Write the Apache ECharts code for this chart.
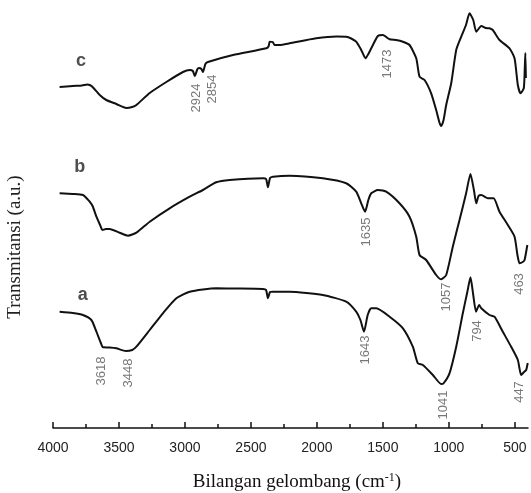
<!DOCTYPE html>
<html>
<head>
<meta charset="utf-8">
<script src="https://cdn.jsdelivr.net/npm/echarts@6/dist/echarts.min.js"></script>
<style>
  html, body { margin: 0; padding: 0; background: #fff; }
  #chart { width: 531px; height: 493px; }
</style>
</head>
<body>
<div id="chart"></div>
<script>
// FTIR spectra, [wavenumber, transmittance (a.u.)]
var spectrumC = [
  [3950, 341], [3850, 342], [3780, 342.5], [3740, 343.5], [3722, 343], [3700, 341],
  [3646, 333], [3596, 328], [3520, 324], [3444, 320], [3400, 321], [3368, 323],
  [3267, 335], [3141, 346], [3015, 356], [2964, 358], [2940, 357], [2926, 352],
  [2905, 359], [2894, 360], [2875, 359], [2864, 356], [2845, 364], [2826, 366],
  [2636, 373], [2383, 379.7], [2365, 382], [2358, 386.3], [2335, 386], [2320, 383],
  [2283, 383], [2207, 384.7], [2005, 389.7], [1850, 391.5], [1778, 391.3], [1740, 389.5],
  [1702, 386.3], [1664, 378], [1631, 369.7], [1610, 374], [1588, 379.7], [1538, 392],
  [1500, 393], [1449, 388.7], [1400, 388], [1348, 386.3], [1298, 383], [1247, 369.7],
  [1222, 351.3], [1184, 348], [1134, 334.7], [1096, 318], [1070, 305], [1058, 302],
  [1040, 308], [1020, 323], [982, 344.7], [944, 378], [906, 391.3], [870, 403],
  [843, 414.7], [815, 408], [792, 396.3], [754, 402], [720, 400], [692, 399.7],
  [667, 398], [616, 388], [540, 379.7], [502, 369.7], [477, 343], [457, 334.7],
  [432, 339.7], [425, 358], [420, 375], [416, 350]
];
var spectrumB = [
  [3950, 234.7], [3850, 234], [3773, 233], [3740, 229], [3722, 226.3], [3700, 222],
  [3671, 211.3], [3640, 202], [3626, 198], [3600, 199], [3571, 199], [3495, 195.3],
  [3432, 192.3], [3368, 195.3], [3267, 206.3], [3116, 219.7], [2964, 231.3], [2864, 238],
  [2763, 245.7], [2661, 248], [2409, 249.7], [2385, 249], [2371, 240.7], [2355, 250],
  [2333, 251.3], [2207, 252.3], [1955, 249.7], [1778, 244.7], [1702, 236.3], [1664, 224.7],
  [1635, 216.3], [1610, 228], [1588, 234.7], [1538, 238], [1475, 236.3], [1374, 224.7],
  [1298, 211.3], [1247, 191.3], [1222, 173], [1172, 168], [1096, 153], [1058, 148.7],
  [1020, 153], [970, 181.3], [919, 208], [869, 234.7], [836, 254], [810, 238],
  [792, 224.7], [775, 232], [754, 233], [704, 229.7], [661, 229.7], [616, 216.3],
  [553, 203], [502, 191.3], [480, 173], [464, 164.7], [440, 166], [426, 168], [405, 183]
];
var spectrumA = [
  [3950, 116.3], [3850, 115], [3773, 113], [3709, 108], [3671, 96.3], [3640, 86],
  [3621, 80.7], [3570, 80.5], [3520, 79.7], [3448, 77], [3400, 78], [3368, 81.3],
  [3267, 98], [3167, 114.7], [3065, 129.7], [2964, 136.3], [2763, 139.7], [2600, 139.5],
  [2409, 139], [2385, 138], [2371, 129.7], [2355, 136], [2333, 136.3], [2207, 136.3],
  [1955, 133], [1778, 126.3], [1702, 116.3], [1670, 108], [1643, 96.3], [1615, 113],
  [1588, 119.7], [1550, 119.7], [1449, 111.3], [1348, 99.7], [1273, 81.3], [1235, 64.7],
  [1197, 63], [1121, 53], [1058, 44], [1041, 44.5], [995, 54.7], [944, 81.3],
  [894, 114.7], [860, 136], [836, 150.7], [815, 133], [794, 116.3], [770, 123],
  [754, 119.7], [692, 113], [654, 111.3], [591, 96.3], [528, 81.3], [477, 68],
  [452, 53], [430, 56], [414, 58], [402, 65]
];

// band annotations: [x, y, text]
var peakLabels = [
  [2914, 330, '2924'], [2788, 339, '2854'], [1467, 364, '1473'],
  [1626, 196, '1635'], [1020, 131, '1057'], [464, 144, '463'],
  [3633, 57, '3618'], [3432, 55, '3448'], [1631, 78, '1643'],
  [1040, 23, '1041'], [780, 97, '794'], [464, 36, '447']
];
var sampleLabels = [[3788, 367, 'c'], [3798, 261, 'b'], [3775, 133, 'a']];

var majorTicks = [500, 1000, 1500, 2000, 2500, 3000, 3500, 4000];
var minorTicks = [750, 1250, 1750, 2250, 2750, 3250, 3750];

var chart = echarts.init(document.getElementById('chart'));

function spectrum(data) {
  return {
    type: 'line',
    data: data,
    symbol: 'none',
    smooth: 0.2,
    lineStyle: { color: '#111', width: 2 },
    silent: true
  };
}

var option = {
  animation: false,
  grid: { left: 53, right: 3, top: 0, bottom: 65 },
  xAxis: [{
    type: 'value',
    min: 400,
    max: 4000,
    inverse: true,
    axisLine: { lineStyle: { color: '#111', width: 1.5 } },
    axisTick: { customValues: majorTicks, inside: true, length: 6, lineStyle: { color: '#111', width: 1.5 } },
    axisLabel: {
      customValues: majorTicks,
      formatter: function (v) { return String(v); },
      color: '#222', fontSize: 14, fontFamily: 'Liberation Sans', margin: 13
    },
    splitLine: { show: false }
  }, {
    type: 'value',
    min: 400,
    max: 4000,
    inverse: true,
    position: 'bottom',
    axisLine: { show: false },
    axisTick: { customValues: minorTicks, inside: true, length: 4, lineStyle: { color: '#111', width: 1.5 } },
    axisLabel: { show: false },
    splitLine: { show: false }
  }],
  yAxis: {
    type: 'value',
    min: 0,
    max: 428,
    show: false
  },
  graphic: [{
    type: 'text',
    x: 15, y: 247,
    rotation: Math.PI / 2,
    style: {
      text: 'Transmitansi (a.u.)',
      font: '19px "Liberation Serif"',
      fill: '#222',
      textAlign: 'center',
      textVerticalAlign: 'middle'
    }
  }, {
    type: 'text',
    x: 297, y: 482,
    style: {
      text: '{a|Bilangan gelombang (cm}{s|-1}{a|)}',
      textAlign: 'center',
      textVerticalAlign: 'middle',
      rich: {
        a: { fontFamily: 'Liberation Serif', fontSize: 19, fill: '#111' },
        s: { fontFamily: 'Liberation Serif', fontSize: 12, fill: '#111', verticalAlign: 'top', padding: [0, 0, 9, 0] }
      }
    }
  }],
  series: [
    spectrum(spectrumC),
    spectrum(spectrumB),
    spectrum(spectrumA),
    {
      type: 'scatter',
      symbolSize: 0,
      silent: true,
      data: peakLabels,
      label: {
        show: true,
        position: 'inside',
        rotate: 90,
        formatter: function (p) { return p.data[2]; },
        color: '#555',
        fontSize: 13,
        fontFamily: 'Liberation Sans'
      }
    },
    {
      type: 'scatter',
      symbolSize: 0,
      silent: true,
      data: sampleLabels,
      label: {
        show: true,
        position: 'inside',
        formatter: function (p) { return p.data[2]; },
        color: '#222',
        fontSize: 18,
        fontWeight: 'bold',
        fontFamily: 'Liberation Sans'
      }
    }
  ]
};

chart.setOption(option);
</script>
</body>
</html>
